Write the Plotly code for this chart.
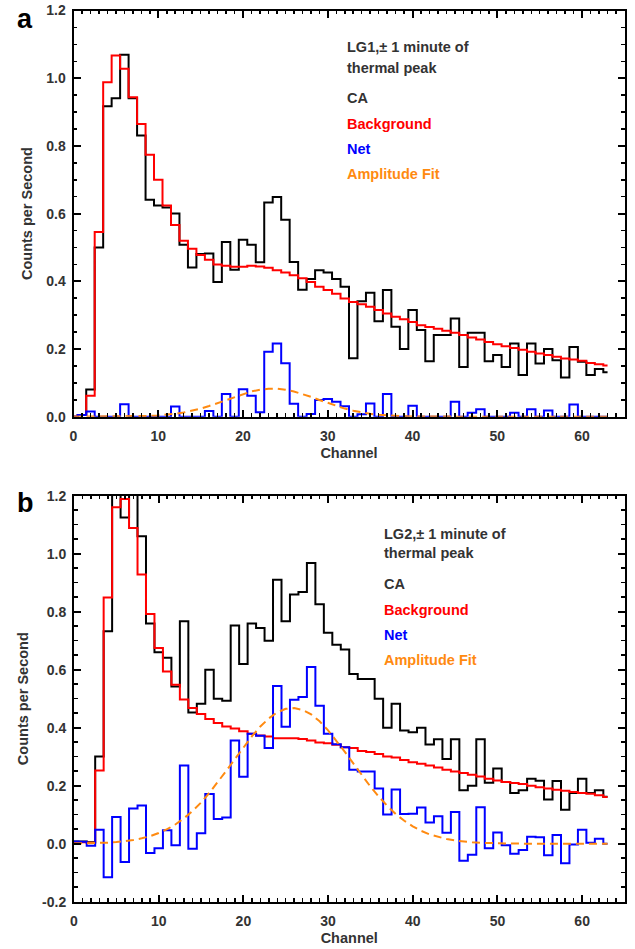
import plotly.graph_objects as go

# ---------------- data ----------------
channels = list(range(64))

ca_a = [0.0, 0.005, 0.08, 0.50, 0.917, 0.941, 1.069, 0.941, 0.831, 0.641,
        0.624, 0.618, 0.600, 0.508, 0.441, 0.481, 0.482, 0.398, 0.516, 0.434,
        0.523, 0.508, 0.456, 0.633, 0.649, 0.582, 0.457, 0.375, 0.407, 0.433,
        0.426, 0.407, 0.384, 0.173, 0.341, 0.366, 0.282, 0.374, 0.266, 0.200,
        0.315, 0.256, 0.164, 0.241, 0.241, 0.290, 0.147, 0.248, 0.248, 0.164,
        0.182, 0.147, 0.216, 0.123, 0.216, 0.157, 0.200, 0.167, 0.116, 0.206,
        0.162, 0.123, 0.141, 0.131]

bg_a = [0.0, 0.005, 0.062, 0.546, 0.988, 1.067, 1.028, 0.944, 0.865, 0.774,
        0.700, 0.624, 0.566, 0.520, 0.496, 0.478, 0.464, 0.450, 0.446, 0.443,
        0.443, 0.446, 0.444, 0.440, 0.433, 0.426, 0.418, 0.409, 0.398, 0.384,
        0.374, 0.363, 0.349, 0.339, 0.332, 0.325, 0.315, 0.305, 0.295, 0.288,
        0.280, 0.270, 0.265, 0.260, 0.254, 0.248, 0.241, 0.234, 0.228, 0.221,
        0.214, 0.208, 0.203, 0.198, 0.192, 0.187, 0.182, 0.177, 0.172, 0.169,
        0.165, 0.159, 0.155, 0.151]

net_a = [0.0, 0.005, 0.015, 0.0, 0.0, 0.0, 0.037, 0.0, 0.0, 0.0,
         0.0, 0.0, 0.030, 0.0, 0.0, 0.0, 0.017, 0.0, 0.067, 0.0,
         0.081, 0.062, 0.013, 0.192, 0.216, 0.158, 0.038, 0.0, 0.008, 0.049,
         0.052, 0.044, 0.031, 0.0, 0.007, 0.039, 0.0, 0.067, 0.0, 0.0,
         0.032, 0.0, 0.0, 0.0, 0.0, 0.044, 0.0, 0.012, 0.022, 0.0,
         0.0, 0.0, 0.012, 0.0, 0.022, 0.0, 0.018, 0.0, 0.0, 0.036,
         0.0, 0.0, 0.0, 0.0]

fit_a = [0.0, 0.0, 0.0, 0.0, 0.0, 0.0002, 0.0004, 0.0008, 0.0013, 0.0022,
         0.0036, 0.0057, 0.0086, 0.0125, 0.0177, 0.0240, 0.0316, 0.0402, 0.0494, 0.0587,
         0.0673, 0.0746, 0.0799, 0.0826, 0.0826, 0.0799, 0.0746, 0.0673, 0.0587, 0.0494,
         0.0402, 0.0316, 0.0240, 0.0177, 0.0125, 0.0086, 0.0057, 0.0036, 0.0022, 0.0013,
         0.0008, 0.0004, 0.0002, 0.0, 0.0, 0.0, 0.0, 0.0, 0.0, 0.0,
         0.0, 0.0, 0.0, 0.0, 0.0, 0.0, 0.0, 0.0, 0.0, 0.0,
         0.0, 0.0, 0.0, 0.0]

ca_b = [0.008, 0.008, 0.005, 0.301, 0.733, 1.252, 1.125, 1.210, 1.060, 0.759,
        0.660, 0.641, 0.542, 0.767, 0.452, 0.483, 0.600, 0.500, 0.493, 0.752,
        0.620, 0.759, 0.744, 0.700, 0.910, 0.767, 0.859, 0.868, 0.968, 0.826,
        0.727, 0.686, 0.670, 0.585, 0.568, 0.568, 0.500, 0.400, 0.483, 0.390,
        0.384, 0.400, 0.342, 0.360, 0.292, 0.360, 0.184, 0.200, 0.360, 0.210,
        0.259, 0.213, 0.175, 0.184, 0.224, 0.217, 0.152, 0.216, 0.117, 0.175,
        0.224, 0.175, 0.184, 0.162]

bg_b = [0.005, 0.005, 0.003, 0.252, 0.849, 1.160, 1.189, 1.089, 0.928, 0.792,
        0.675, 0.594, 0.548, 0.497, 0.468, 0.447, 0.430, 0.416, 0.404, 0.397,
        0.388, 0.379, 0.373, 0.370, 0.364, 0.364, 0.364, 0.361, 0.356, 0.349,
        0.346, 0.341, 0.333, 0.330, 0.320, 0.316, 0.309, 0.301, 0.297, 0.289,
        0.281, 0.276, 0.270, 0.263, 0.255, 0.249, 0.244, 0.238, 0.232, 0.224,
        0.218, 0.213, 0.209, 0.206, 0.200, 0.195, 0.190, 0.186, 0.183, 0.178,
        0.175, 0.172, 0.167, 0.161]

net_b = [0.008, 0.007, -0.007, 0.048, -0.116, 0.092, -0.063, 0.121, 0.132, -0.032,
         -0.016, 0.046, -0.005, 0.270, -0.017, 0.036, 0.171, 0.085, 0.090, 0.356,
         0.231, 0.379, 0.372, 0.330, 0.544, 0.403, 0.496, 0.506, 0.609, 0.476,
         0.379, 0.343, 0.333, 0.255, 0.249, 0.249, 0.190, 0.101, 0.187, 0.102,
         0.103, 0.125, 0.073, 0.095, 0.038, 0.109, -0.059, -0.038, 0.126, -0.016,
         0.039, -0.005, -0.035, -0.022, 0.024, 0.022, -0.040, 0.030, -0.067, -0.003,
         0.048, 0.003, 0.017, 0.0]

fit_b = [0.0005, 0.0009, 0.0015, 0.0023, 0.0037, 0.0057, 0.0086, 0.0127, 0.0185, 0.026,
         0.037, 0.050, 0.067, 0.088, 0.113, 0.142, 0.176, 0.212, 0.252, 0.292,
         0.332, 0.370, 0.404, 0.432, 0.453, 0.465, 0.468, 0.461, 0.446, 0.422,
         0.391, 0.355, 0.316, 0.276, 0.236, 0.197, 0.162, 0.130, 0.102, 0.079,
         0.060, 0.044, 0.032, 0.023, 0.016, 0.011, 0.0073, 0.0048, 0.003, 0.0019,
         0.0012, 0.0007, 0.0004, 0.0002, 0.0001, 0.0, 0.0, 0.0, 0.0, 0.0,
         0.0, 0.0, 0.0, 0.0]

x_tickvals = [0, 10, 20, 30, 40, 50, 60]
x_ticktext = ["0", "10", "20", "30", "40", "50", "60"]
y_tickvals_a = [0.0, 0.2, 0.4, 0.6, 0.8, 1.0, 1.2]
y_ticktext_a = ["0.0", "0.2", "0.4", "0.6", "0.8", "1.0", "1.2"]
y_tickvals_b = [-0.2, 0.0, 0.2, 0.4, 0.6, 0.8, 1.0, 1.2]
y_ticktext_b = ["-0.2", "0.0", "0.2", "0.4", "0.6", "0.8", "1.0", "1.2"]

legend_names = ["CA", "Background", "Net", "Amplitude Fit"]
header_a = ["LG1,\u00b1 1 minute of", "thermal peak"]
header_b = ["LG2,\u00b1 1 minute of", "thermal peak"]

# ---------------- style ----------------
FONT = "Liberation Sans, Arial, Helvetica, sans-serif"
GRAY = "#333333"
C_CA, C_BG, C_NET, C_FIT = "#000000", "#ff0000", "#0000ff", "#ff8a10"

fig = go.Figure()

def add_panel(ca, bg, net, fit, xa, ya):
    for y, c in [(ca, C_CA), (bg, C_BG), (net, C_NET)]:
        fig.add_trace(go.Scatter(x=channels, y=y, mode="lines", xaxis=xa, yaxis=ya,
                                 line=dict(color=c, width=2, shape="hvh"),
                                 showlegend=False, hoverinfo="skip"))
    fig.add_trace(go.Scatter(x=channels, y=fit, mode="lines", xaxis=xa, yaxis=ya,
                             line=dict(color=C_FIT, width=2, dash="8px,5px"),
                             showlegend=False, hoverinfo="skip"))

add_panel(ca_a, bg_a, net_a, fit_a, "x", "y")
add_panel(ca_b, bg_b, net_b, fit_b, "x2", "y2")

tickfont = dict(family=FONT, size=14, color=GRAY, weight="bold")
titlefont = dict(family=FONT, size=14.5, color=GRAY, weight="bold")

def xaxis_cfg(domain, anchor):
    return dict(domain=domain, anchor=anchor, range=[0, 65], automargin=False,
                tickmode="array", tickvals=x_tickvals, ticktext=x_ticktext,
                ticks="inside", ticklen=7, tickwidth=2, tickcolor="black",
                ticklabelstandoff=5,
                minor=dict(tickmode="linear", tick0=0, dtick=1, ticks="inside",
                           ticklen=3.5, tickwidth=1.5, tickcolor="black"),
                showline=True, linewidth=2, linecolor="black", mirror="ticks",
                showgrid=False, zeroline=False, tickfont=tickfont,
                title=dict(text="Channel", font=titlefont, standoff=5))

def yaxis_cfg(domain, anchor, rng, tv, tt):
    return dict(domain=domain, anchor=anchor, range=rng, automargin=False,
                tickmode="array", tickvals=tv, ticktext=tt,
                ticks="inside", ticklen=7, tickwidth=2, tickcolor="black",
                ticklabelstandoff=3,
                minor=dict(tickmode="linear", tick0=0, dtick=0.05, ticks="inside",
                           ticklen=3.5, tickwidth=1.5, tickcolor="black"),
                showline=True, linewidth=2, linecolor="black", mirror="ticks",
                showgrid=False, zeroline=False, tickfont=tickfont,
                title=dict(text="Counts per Second", font=titlefont, standoff=10))

W, H = 635, 949
fig.update_layout(
    width=W, height=H, autosize=False,
    margin=dict(l=0, r=0, t=0, b=0, autoexpand=False),
    paper_bgcolor="white", plot_bgcolor="white",
    xaxis=xaxis_cfg([73.5 / W, 624.5 / W], "y"),
    yaxis=yaxis_cfg([1 - 416.7 / H, 1 - 10.5 / H], "x", [0, 1.2], y_tickvals_a, y_ticktext_a),
    xaxis2=xaxis_cfg([74 / W, 624.5 / W], "y2"),
    yaxis2=yaxis_cfg([1 - 901.7 / H, 1 - 495.7 / H], "x2", [-0.2, 1.2], y_tickvals_b, y_ticktext_b),
)

ann = []
def add_text(txt, x, y, color, size=14.5):
    ann.append(dict(text=txt, x=x / W, y=1 - y / H, xref="paper", yref="paper",
                    xanchor="left", yanchor="middle", showarrow=False,
                    font=dict(family=FONT, size=size, color=color, weight="bold")))

leg_colors = [GRAY, C_BG, C_NET, C_FIT]
# panel a
add_text(header_a[0], 345, 47, GRAY)
add_text(header_a[1], 345, 68, GRAY)
for name, col, yy in zip(legend_names, leg_colors, [98.5, 124, 149, 174.5]):
    add_text(name, 345, yy, col)
# panel b
add_text(header_b[0], 381.5, 533.5, GRAY)
add_text(header_b[1], 381.5, 553, GRAY)
for name, col, yy in zip(legend_names, leg_colors, [584, 609.5, 634.5, 660]):
    add_text(name, 381.5, yy, col)
# panel letters
add_text("a", 15, 19, "black", size=27)
add_text("b", 15, 503, "black", size=27)

fig.update_layout(annotations=ann)
fig.write_html("out.html",
               config={"displayModeBar": False, "staticPlot": True},
               post_script="document.body.style.margin='0px';"
                           "document.body.style.padding='0px';"
                           "document.body.style.overflow='hidden';")
